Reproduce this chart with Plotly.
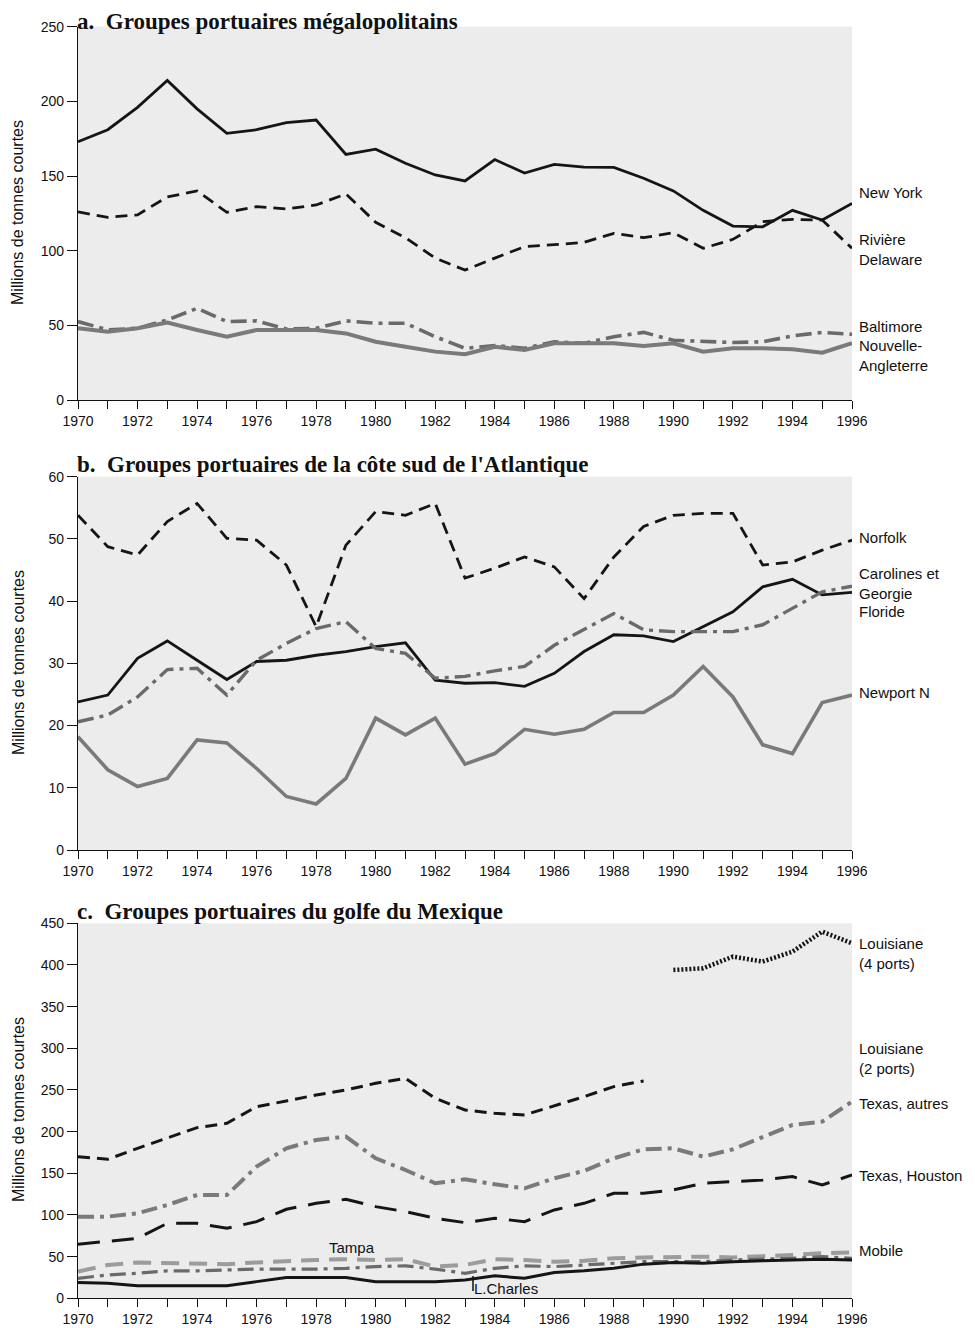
import plotly.graph_objects as go

# page body has an 8px margin: figure is sized to fit the 975x1328 window
OFF = 8
W, H = 975 - OFF, 1328 - OFF
years = list(range(1970, 1997))
xtick_text = [str(y) if y % 2 == 0 else "" for y in years]

# Panel a
new_york = [173, 181, 196, 214, 195, 178.6, 181, 185.7, 187.5, 164.5, 168, 158.5, 150.7, 146.7, 161, 152,
            157.8, 156, 155.8, 148.5, 140, 127, 116.5, 116, 127, 120.5, 131.7]
delaware = [126, 122.3, 124, 136, 140, 125.7, 129.5, 128, 130.6, 138, 119, 108.7, 95, 87, 95, 102.7,
            104, 105.6, 111.6, 108.7, 112, 101.6, 107.6, 119.4, 121, 120.5, 101.6]
baltimore = [52.5, 47, 48, 53.6, 61.4, 52.5, 53, 47.5, 48, 53, 51.4, 51.4, 42.4, 34.6, 36.5, 34.6,
             39, 38, 42.4, 45.3, 40, 39, 38.5, 39, 42.9, 45.3, 44]
nouvelle_angleterre = [48, 45.7, 48, 51.8, 46.9, 42.4, 46.9, 46.9, 46.9, 44.6, 39, 35.7, 32.4, 30.6, 35.7, 33.5,
                       38, 38, 38, 36.2, 38, 32.4, 34.6, 34.6, 34, 31.7, 38]

# Panel b
norfolk = [53.8, 48.75, 47.4, 52.8, 55.7, 50.1, 49.8, 45.8, 35.9, 49, 54.4, 53.8, 55.7, 43.7, 45.3, 47.1,
           45.5, 40.4, 47.1, 52, 53.8, 54.1, 54.1, 45.8, 46.3, 48.2, 49.8]
carolines = [23.8, 24.9, 30.8, 33.6, 30.5, 27.4, 30.3, 30.5, 31.3, 31.9, 32.7, 33.3, 27.3, 26.8, 26.9, 26.3,
             28.4, 31.9, 34.6, 34.4, 33.5, 35.9, 38.3, 42.3, 43.5, 41, 41.4]
floride = [20.6, 21.7, 24.6, 29, 29.2, 24.9, 30.5, 33.2, 35.6, 36.7, 32.4, 31.6, 27.6, 27.9, 28.8, 29.5,
           32.9, 35.4, 38, 35.4, 35.1, 35.1, 35.1, 36.2, 38.8, 41.5, 42.4]
newport = [18.2, 12.9, 10.2, 11.5, 17.7, 17.2, 13.1, 8.6, 7.4, 11.5, 21.2, 18.5, 21.2, 13.8, 15.5, 19.4,
           18.6, 19.4, 22.1, 22.1, 24.9, 29.5, 24.6, 16.9, 15.5, 23.7, 24.9]

# Panel c
years_louis2 = list(range(1970, 1990))
louisiane_2 = [170, 166.8, 180, 192, 204.8, 210, 230, 236.8, 244, 250, 258, 264, 240, 226, 222, 220,
               230.8, 242, 254, 260.8]
years_louis4 = list(range(1990, 1997))
louisiane_4 = [394, 396, 410, 404, 416, 440, 426]
texas_autres = [98, 98, 102, 112, 124, 124, 158, 180, 190, 194, 168, 154, 138, 142.8, 136.8, 132,
                144, 152.8, 168, 178.8, 180, 170, 178.8, 194, 208, 212, 236]
houston = [64.8, 68, 72, 90, 90, 84, 92, 106.8, 114, 118.8, 110, 104, 96, 90.8, 96, 92,
           106, 114, 126, 126, 130, 138, 140, 142, 146, 136, 148]
tampa = [32, 40, 43, 42, 41, 41, 43, 45, 46, 47, 46, 47, 38, 40, 47, 46, 44, 45, 48, 49, 50, 50, 49, 50, 52, 54, 55]
mobile = [24, 28, 30, 33, 33, 34, 35, 35, 35, 36, 38, 39, 35, 30, 36, 39, 38, 40, 42, 44, 44, 44, 46, 47, 48, 50, 48]
l_charles = [19, 18, 15, 15, 15, 15, 20, 25, 25, 25, 20, 20, 20, 22, 27, 24, 31, 33, 36, 41, 43, 42, 44, 45, 46, 47, 46]

BLACK = "#151515"
GRAY = "#7a7a7a"
DGRAY = "#6a6a6a"
LGRAY = "#9c9c9c"


def py(px):
    return 1 - (px - OFF) / H


def px_x(px):
    return (px - OFF) / W


X0, X1 = 78, 852
panels = [
    # (top px, bottom px, ymax, dtick)
    (26.7, 400, 250, 50),
    (476.7, 850, 60, 10),
    (923.3, 1298.3, 450, 50),
]

fig = go.Figure()

series = [
    (1, years, new_york, BLACK, 2.8, "solid"),
    (1, years, delaware, BLACK, 2.8, "12px,7px"),
    (1, years, baltimore, DGRAY, 3.6, "16px,6px,4px,6px"),
    (1, years, nouvelle_angleterre, GRAY, 4, "solid"),
    (2, years, norfolk, BLACK, 2.8, "12px,7px"),
    (2, years, carolines, BLACK, 2.8, "solid"),
    (2, years, floride, DGRAY, 3.4, "16px,6px,4px,6px"),
    (2, years, newport, GRAY, 3.6, "solid"),
    (3, years_louis2, louisiane_2, BLACK, 3.0, "12px,7px"),
    (3, years_louis4, louisiane_4, BLACK, 4.5, "2px,2px"),
    (3, years, texas_autres, GRAY, 4, "16px,6px,4px,6px"),
    (3, years, houston, BLACK, 3.0, "22px,12px"),
    (3, years, tampa, LGRAY, 4, "18px,10px"),
    (3, years, mobile, DGRAY, 3.2, "16px,6px,4px,6px"),
    (3, years, l_charles, BLACK, 3.0, "solid"),
]

for row, xs, ys, color, width, dash in series:
    suffix = "" if row == 1 else str(row)
    fig.add_trace(go.Scatter(x=xs, y=ys, mode="lines", xaxis="x" + suffix, yaxis="y" + suffix,
                             line=dict(color=color, width=width, dash=dash), showlegend=False,
                             hoverinfo="skip"))

tickfont = dict(family="Liberation Sans, Arial, sans-serif", size=14, color="#111")
layout = dict(width=W, height=H, margin=dict(l=0, r=0, t=0, b=0, autoexpand=False),
              paper_bgcolor="white", plot_bgcolor="#ececec", showlegend=False)

for i, (top, bot, ymax, dtick) in enumerate(panels, start=1):
    suffix = "" if i == 1 else str(i)
    layout["xaxis" + suffix] = dict(
        domain=[px_x(X0), px_x(X1)], anchor="y" + suffix, range=[1970, 1996], automargin=False,
        tickmode="array", tickvals=years, ticktext=xtick_text, ticks="outside", ticklen=8,
        tickcolor="#111", tickwidth=1, showline=True, linecolor="#111", linewidth=1.2,
        showgrid=False, zeroline=False, tickfont=tickfont)
    layout["yaxis" + suffix] = dict(
        domain=[py(bot), py(top)], anchor="x" + suffix, range=[0, ymax], dtick=dtick, automargin=False,
        ticks="outside", ticklen=10, tickcolor="#111", tickwidth=1, showline=True,
        linecolor="#111", linewidth=1.2, showgrid=False, zeroline=False, tickfont=tickfont)

fig.update_layout(**layout)

annotations = []
ytitle_centers = [213, 663, 1110]
for yc in ytitle_centers:
    annotations.append(dict(text="Millions de tonnes courtes", x=px_x(18), y=py(yc), xref="paper", yref="paper",
                            textangle=-90, showarrow=False, xanchor="center", yanchor="middle",
                            font=dict(family="Liberation Sans, Arial, sans-serif", size=16, color="#111")))

titles = [
    ("a.  Groupes portuaires mégalopolitains", 21),
    ("b.  Groupes portuaires de la côte sud de l'Atlantique", 464),
    ("c.  Groupes portuaires du golfe du Mexique", 911),
]
for txt, yc in titles:
    annotations.append(dict(text="<b>" + txt + "</b>", x=px_x(76), y=py(yc), xref="paper", yref="paper",
                            showarrow=False, xanchor="left", yanchor="middle", borderpad=0,
                            font=dict(family="Liberation Serif, Times New Roman, serif", size=23, color="#111")))

labels = [
    ("New York", 193),
    ("Rivière<br>Delaware", 249),
    ("Baltimore", 326),
    ("Nouvelle-<br>Angleterre", 355),
    ("Norfolk", 537),
    ("Carolines et<br>Georgie", 584),
    ("Floride", 611),
    ("Newport N", 692),
    ("Louisiane<br>(4 ports)", 953),
    ("Louisiane<br>(2 ports)", 1058),
    ("Texas, autres", 1103),
    ("Texas, Houston", 1175),
    ("Mobile", 1250),
]
for txt, yc in labels:
    annotations.append(dict(text=txt, x=px_x(857), y=py(yc), xref="paper", yref="paper",
                            showarrow=False, xanchor="left", yanchor="middle", align="left",
                            font=dict(family="Liberation Sans, Arial, sans-serif", size=15, color="#111")))

annotations.append(dict(text="Tampa", x=px_x(352), y=py(1247), xref="paper", yref="paper", showarrow=False,
                        xanchor="center", yanchor="middle",
                        font=dict(family="Liberation Sans, Arial, sans-serif", size=15, color="#111")))
annotations.append(dict(text="L.Charles", x=px_x(472), y=py(1288), xref="paper", yref="paper", showarrow=False,
                        xanchor="left", yanchor="middle",
                        font=dict(family="Liberation Sans, Arial, sans-serif", size=15, color="#111")))

fig.update_layout(annotations=annotations)
fig.add_shape(type="line", xref="paper", yref="paper", x0=px_x(473), x1=px_x(473), y0=py(1291), y1=py(1276),
              line=dict(color="#111", width=1.5))

fig.write_html("out.html")
